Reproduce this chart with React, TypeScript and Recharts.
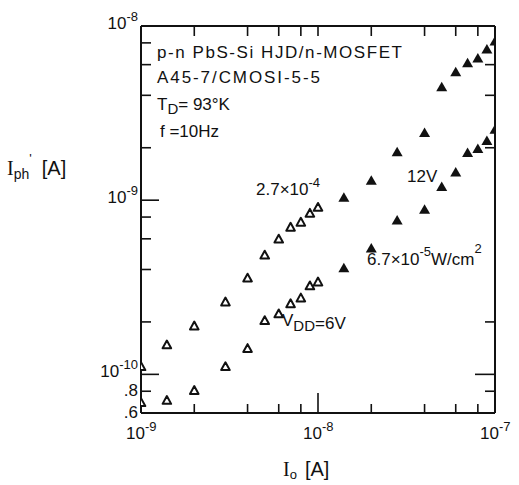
import React from 'react';
import { ScatterChart, Scatter, XAxis, YAxis } from 'recharts';

// drain current I_0 [A] (x) and photo current I_ph' [A] (y)
const ioLow = [1e-9, 1.4e-9, 2e-9, 3e-9, 4e-9, 5e-9, 6e-9, 7e-9, 8e-9, 9e-9, 1e-8];
const open6VHigh = [1.11e-10, 1.48e-10, 1.9e-10, 2.61e-10, 3.58e-10, 4.85e-10, 5.99e-10, 7.01e-10, 7.49e-10, 8.43e-10, 9.12e-10];
const open6VLow = [6.9e-11, 7.1e-11, 8.1e-11, 1.11e-10, 1.41e-10, 2.04e-10, 2.23e-10, 2.55e-10, 2.75e-10, 3.23e-10, 3.4e-10];

const ioHigh = [1.4e-8, 2e-8, 2.8e-8, 4e-8, 5e-8, 6e-8, 7e-8, 8e-8, 9e-8, 1e-7];
const filled12VHigh = [1.04e-9, 1.3e-9, 1.9e-9, 2.45e-9, 4.48e-9, 5.46e-9, 6.15e-9, 6.56e-9, 7.39e-9, 8.21e-9];
const filled12VLow = [4.09e-10, 5.32e-10, 7.69e-10, 8.88e-10, 1.2e-9, 1.45e-9, 1.88e-9, 1.98e-9, 2.2e-9, 2.55e-9];

const xTicks = [1e-9, 2e-9, 4e-9, 6e-9, 8e-9, 1e-8, 2e-8, 4e-8, 6e-8, 8e-8, 1e-7];
const xTickLabels: Record<string, string> = { '1e-9': '-9', '1e-8': '-8', '1e-7': '-7' };
const yTicksLeft = [6e-11, 8e-11, 1e-10, 2e-10, 4e-10, 6e-10, 8e-10, 1e-9, 2e-9, 4e-9, 6e-9, 8e-9, 1e-8];
const yTicksRight = [8e-11, 1e-10, 2e-10, 2e-9, 4e-9, 6e-9];
const yTickLabels: Record<string, [string, string]> = {
  '1e-8': ['10', '-8'],
  '1e-9': ['10', '-9'],
  '1e-10': ['10', '-10'],
  '8e-11': ['.8', ''],
  '6e-11': ['.6', ''],
};

const X_DOMAIN = [1e-9, 1e-7];
const Y_DOMAIN = [6e-11, 1e-8];
const FONT = '"Liberation Sans", Arial, sans-serif';
const INK = '#111';

const toPoints = (xs: number[], ys: number[]) => ys.map((y, i) => ({ x: xs[i], y }));

const isMajor = (v: number) => Math.abs(Math.log10(v) - Math.round(Math.log10(v))) < 1e-6;
const atEdge = (v: number, d: number[]) => Math.abs(v / d[0] - 1) < 1e-6 || Math.abs(v / d[1] - 1) < 1e-6;

function BottomTick(props: any) {
  const { x, y, payload } = props;
  const v = payload.value;
  const key = String(v);
  const len = v === 1e-8 ? 20 : 9;
  return (
    <g>
      {!atEdge(v, X_DOMAIN) && <line x1={x} y1={y} x2={x} y2={y - len} stroke={INK} strokeWidth={1.6} />}
      {xTickLabels[key] && (
        <text x={x - 15} y={y + 26} fontFamily={FONT} fontSize={17} fill={INK}>
          10
          <tspan dy={-8} fontSize={13}>{xTickLabels[key]}</tspan>
        </text>
      )}
    </g>
  );
}

function TopTick(props: any) {
  const { x, y, payload } = props;
  if (atEdge(payload.value, X_DOMAIN)) return <g />;
  return <line x1={x} y1={y} x2={x} y2={y + 10} stroke={INK} strokeWidth={1.6} />;
}

function LeftTick(props: any) {
  const { x, y, payload } = props;
  const v = payload.value;
  const lbl = yTickLabels[String(v)];
  const len = isMajor(v) ? 18 : 10;
  return (
    <g>
      {!atEdge(v, Y_DOMAIN) && <line x1={x} y1={y} x2={x + len} y2={y} stroke={INK} strokeWidth={1.6} />}
      {lbl && (
        <text x={x - 3} y={y + (lbl[1] ? 3 : 5)} textAnchor="end" fontFamily={FONT} fontSize={17} fill={INK}>
          {lbl[0]}
          {lbl[1] && <tspan dy={-8} fontSize={13}>{lbl[1]}</tspan>}
        </text>
      )}
    </g>
  );
}

function RightTick(props: any) {
  const { x, y, payload } = props;
  const len = isMajor(payload.value) ? 20 : 10;
  return <line x1={x} y1={y} x2={x - len} y2={y} stroke={INK} strokeWidth={1.6} />;
}

const openTriangle = (props: any) => {
  const { cx, cy } = props;
  return (
    <polygon
      points={`${cx},${cy - 4.2} ${cx + 4.3},${cy + 3.6} ${cx - 4.3},${cy + 3.6}`}
      fill="#fff"
      stroke={INK}
      strokeWidth={2}
      strokeLinejoin="round"
    />
  );
};

const filledTriangle = (props: any) => {
  const { cx, cy } = props;
  return <polygon points={`${cx},${cy - 5} ${cx + 5.5},${cy + 4.5} ${cx - 5.5},${cy + 4.5}`} fill={INK} />;
};

export default function App() {
  const txt = { fontFamily: FONT, fill: INK };
  return (
    <div style={{ position: 'absolute', left: 0, top: 0, width: 519, height: 485, background: '#fff' }}>
      <ScatterChart width={519} height={485} margin={{ top: 25, right: 23, bottom: 0, left: 0 }}>
        <XAxis
          xAxisId="b"
          dataKey="x"
          type="number"
          scale="log"
          domain={X_DOMAIN}
          allowDataOverflow
          orientation="bottom"
          height={72}
          ticks={xTicks}
          interval={0}
          tickSize={0}
          tickMargin={0}
          tickLine={false}
          axisLine={{ stroke: INK, strokeWidth: 2 }}
          tick={BottomTick}
        />
        <XAxis
          xAxisId="t"
          dataKey="x"
          type="number"
          scale="log"
          domain={X_DOMAIN}
          allowDataOverflow
          orientation="top"
          height={1}
          ticks={xTicks}
          interval={0}
          tickSize={0}
          tickMargin={0}
          tickLine={false}
          axisLine={{ stroke: INK, strokeWidth: 2 }}
          tick={TopTick}
        />
        <YAxis
          yAxisId="l"
          dataKey="y"
          type="number"
          scale="log"
          domain={Y_DOMAIN}
          allowDataOverflow
          orientation="left"
          width={141}
          ticks={yTicksLeft}
          interval={0}
          tickSize={0}
          tickMargin={0}
          tickLine={false}
          axisLine={{ stroke: INK, strokeWidth: 2 }}
          tick={LeftTick}
        />
        <YAxis
          yAxisId="r"
          dataKey="y"
          type="number"
          scale="log"
          domain={Y_DOMAIN}
          allowDataOverflow
          orientation="right"
          width={1}
          ticks={yTicksRight}
          interval={0}
          tickSize={0}
          tickMargin={0}
          tickLine={false}
          axisLine={{ stroke: INK, strokeWidth: 2 }}
          tick={RightTick}
        />
        <Scatter xAxisId="b" yAxisId="l" data={toPoints(ioLow, open6VHigh)} shape={openTriangle} isAnimationActive={false} />
        <Scatter xAxisId="b" yAxisId="l" data={toPoints(ioLow, open6VLow)} shape={openTriangle} isAnimationActive={false} />
        <Scatter xAxisId="b" yAxisId="l" data={toPoints(ioHigh, filled12VHigh)} shape={filledTriangle} isAnimationActive={false} />
        <Scatter xAxisId="b" yAxisId="l" data={toPoints(ioHigh, filled12VLow)} shape={filledTriangle} isAnimationActive={false} />
      </ScatterChart>

      <svg width={519} height={485} style={{ position: 'absolute', left: 0, top: 0, pointerEvents: 'none' }}>
        {/* sample info */}
        <text x={157} y={58} fontSize={17} textLength={245} lengthAdjust="spacing" {...txt}>p-n PbS-Si HJD/n-MOSFET</text>
        <text x={157} y={83} fontSize={17} textLength={163} lengthAdjust="spacing" {...txt}>A45-7/CMOSI-5-5</text>
        <text x={157} y={110} fontSize={17} {...txt}>
          T<tspan dy={4} fontSize={15}>D</tspan>
          <tspan dy={-4}>= 93°K</tspan>
        </text>
        <text x={160} y={137} fontSize={17} {...txt}>f =10Hz</text>

        {/* curve labels */}
        <text x={256} y={195} fontSize={17} {...txt}>
          2.7×10<tspan dy={-8} fontSize={13}>-4</tspan>
        </text>
        <text x={407} y={182} fontSize={17} {...txt}>12V</text>
        <text x={367} y={265} fontSize={17} {...txt}>
          6.7×10<tspan dy={-9} fontSize={13}>-5</tspan>
          <tspan dy={9}>W/cm</tspan>
          <tspan dy={-12} fontSize={13}>2</tspan>
        </text>
        <text x={282} y={326} fontSize={17} {...txt}>
          V<tspan dy={5} fontSize={15}>DD</tspan>
          <tspan dy={-2}>=6V</tspan>
        </text>

        {/* axis titles */}
        <text x={7} y={175} fontSize={20} {...txt}>
          <tspan fontFamily='"Liberation Serif", serif'>I</tspan>
          <tspan dy={4} fontSize={14}>ph</tspan>
          <tspan dy={-16} fontSize={13}>'</tspan>
          <tspan dy={12} dx={10}>[A]</tspan>
        </text>
        <text x={283} y={476} fontSize={20} {...txt}>
          <tspan fontFamily='"Liberation Serif", serif'>I</tspan>
          <tspan dy={3} fontSize={13}>o</tspan>
          <tspan dy={-3} dx={8}>[A]</tspan>
        </text>
      </svg>
    </div>
  );
}
